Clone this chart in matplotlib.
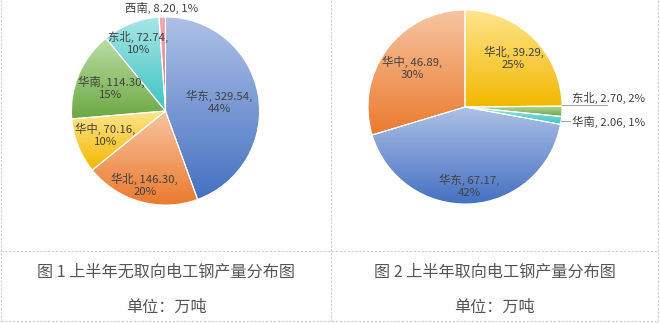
import numpy as np
import matplotlib
matplotlib.use('Agg')
import matplotlib.pyplot as plt
from matplotlib.colors import to_rgb

plt.rcParams['font.family'] = ['Noto Sans CJK SC', 'DejaVu Sans']

W, H = 660, 323

# 图1: 无取向电工钢 (clockwise from 12 o'clock)
names1 = ['华东', '华北', '华中', '华南', '东北', '西南']
vals1 = [329.54, 146.30, 70.16, 114.30, 72.74, 8.20]

# 图2: 取向电工钢
names2 = ['华北', '东北', '华南', '华东', '华中']
vals2 = [39.29, 2.70, 2.06, 67.17, 46.89]

caption1 = '图 1 上半年无取向电工钢产量分布图'
caption2 = '图 2 上半年取向电工钢产量分布图'
unit = '单位：万吨'

# (top colour, bottom colour) for the gradient fills
BLUE = ('#AEC1E6', '#4571C2')
ORANGE = ('#F7C5A2', '#EB7A2E')
YELLOW = ('#FFE58F', '#F2B800')
GREEN = ('#BCDDA4', '#6BA843')
TEAL = ('#A8E6E6', '#3EC3C3')
PINK = ('#F6A9B6', '#E8687C')

colors1 = [BLUE, ORANGE, YELLOW, GREEN, TEAL, PINK]
colors2 = [YELLOW, GREEN, TEAL, BLUE, ORANGE]

TXT = '#404040'
GRID = '#CDCDCD'
FS = 8.2


def pct_labels(vals):
    # percentages rounded so they add up to 100 (largest remainder)
    v = np.asarray(vals, dtype=float)
    p = v / v.sum() * 100
    out = np.floor(p).astype(int)
    rem = p - out
    for i in np.argsort(-rem)[:100 - out.sum()]:
        out[i] += 1
    return out


def pie_axes(fig, cx, cy, r):
    return fig.add_axes([(cx - r) / W, (H - cy - r) / H, 2 * r / W, 2 * r / H])


def draw_pie(ax, vals, colors):
    wedges, _ = ax.pie(vals, startangle=90, counterclock=False, radius=1,
                       wedgeprops=dict(edgecolor='white', linewidth=0.8))
    g = np.linspace(0, 1, 256)[:, None, None]
    for w, (c0, c1) in zip(wedges, colors):
        ext = w.get_path().get_extents()
        rgb = (1 - g) * np.array(to_rgb(c0)) + g * np.array(to_rgb(c1))
        im = ax.imshow(rgb, extent=(ext.x0, ext.x1, ext.y0, ext.y1), origin='upper',
                       aspect='auto', interpolation='bilinear', zorder=1)
        im.set_clip_path(w)
        w.set_facecolor('none')
        w.set_zorder(2)
    ax.set_xlim(-1.01, 1.01)
    ax.set_ylim(-1.01, 1.01)
    ax.axis('off')
    return wedges


def mid_xy(w, r):
    a = np.deg2rad((w.theta1 + w.theta2) / 2)
    return r * np.cos(a), r * np.sin(a)


fig = plt.figure(figsize=(W / 100, H / 100), dpi=100)

# table frame and captions
bg = fig.add_axes([0, 0, 1, 1])
bg.set_xlim(0, W)
bg.set_ylim(H, 0)
bg.axis('off')
for x in (1, 331, 658):
    bg.plot([x, x], [0, 321], color=GRID, lw=0.8, ls=(0, (2, 1.5)))
for y in (251, 321):
    bg.plot([1, 658], [y, y], color=GRID, lw=0.8, ls=(0, (2, 1.5)))
for xc, cap in ((166, caption1), (494.5, caption2)):
    bg.text(xc, 272, cap, ha='center', va='center', fontsize=11.6, color='#555555')
    bg.text(xc, 307, unit, ha='center', va='center', fontsize=11.6, color='#555555')

# left pie
ax1 = pie_axes(fig, 165.5, 111, 95)
w1 = draw_pie(ax1, vals1, colors1)
p1 = pct_labels(vals1)
r1 = [0.58, 0.82, 0.69, 0.63, 0.78]
for w, n, v, p, r in zip(w1, names1, vals1, p1, r1):
    x, y = mid_xy(w, r)
    ax1.text(x, y, f'{n}, {v:.2f},\n{p}%', ha='center', va='center',
             fontsize=FS, color=TXT, linespacing=1.25, zorder=5)
x, y = mid_xy(w1[-1], 1.095)
ax1.text(x, y, f'{names1[-1]}, {vals1[-1]:.2f}, {p1[-1]}%', ha='center', va='center',
         fontsize=FS, color=TXT, zorder=5)

# right pie
ax2 = pie_axes(fig, 465, 107, 98)
w2 = draw_pie(ax2, vals2, colors2)
p2 = pct_labels(vals2)
inside = {0: 0.71, 3: 0.81, 4: 0.68}
for i, r in inside.items():
    x, y = mid_xy(w2[i], r)
    ax2.text(x, y, f'{names2[i]}, {vals2[i]:.2f},\n{p2[i]}%', ha='center', va='center',
             fontsize=FS, color=TXT, linespacing=1.25, zorder=5)
# small slices labelled outside with leader lines
outside = {1: (0.02, 1.46, 0.092), 2: (-0.143, 1.08, -0.153)}
for i, (ly, lx, ty) in outside.items():
    x0, y0 = mid_xy(w2[i], 1.0)
    ax2.plot([x0, lx], [ly, ly], color='#A6A6A6', lw=0.8, clip_on=False, zorder=4)
    ax2.text(1.10, ty, f'{names2[i]}, {vals2[i]:.2f}, {p2[i]}%', ha='left', va='center',
             fontsize=FS, color=TXT, zorder=5)

fig.savefig('out.png', dpi=100)
